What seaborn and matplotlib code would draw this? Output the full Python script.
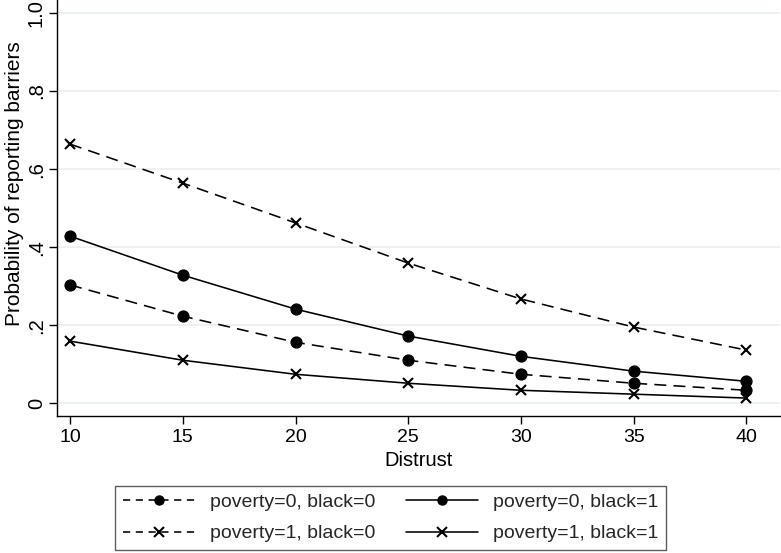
import numpy as np
import pandas as pd
import matplotlib.pyplot as plt
import seaborn as sns

# distrust levels on the x axis
DISTRUST = [10, 15, 20, 25, 30, 35, 40]

# predicted probabilities
P0_B0 = [0.303, 0.223, 0.156, 0.110, 0.074, 0.051, 0.033]
P0_B1 = [0.428, 0.328, 0.241, 0.172, 0.120, 0.082, 0.056]
P1_B0 = [0.664, 0.564, 0.462, 0.359, 0.267, 0.195, 0.136]
P1_B1 = [0.159, 0.110, 0.074, 0.051, 0.033, 0.023, 0.013]

LABELS = [
    "poverty=0, black=0",
    "poverty=0, black=1",
    "poverty=1, black=0",
    "poverty=1, black=1",
]
Y_TICKS = [0, 0.2, 0.4, 0.6, 0.8, 1.0]
Y_TICK_LABELS = ["0", ".2", ".4", ".6", ".8", "1.0"]


def main():
    sns.set_theme(style="white")
    plt.rcParams["font.family"] = ["Liberation Sans", "DejaVu Sans"]

    fig = plt.figure(figsize=(7.81, 5.53), dpi=100)
    ax = fig.add_axes([0.073, 0.2477, 0.926, 0.752])

    dash = (7.5, 4.5)
    styles = {
        LABELS[0]: ("o", dash),
        LABELS[1]: ("o", None),
        LABELS[2]: ("x", dash),
        LABELS[3]: ("x", None),
    }
    series = dict(zip(LABELS, [P0_B0, P0_B1, P1_B0, P1_B1]))

    handles = {}
    for label in LABELS:
        marker, dashes = styles[label]
        df = pd.DataFrame({"Distrust": DISTRUST, "prob": series[label]})
        sns.lineplot(
            data=df,
            x="Distrust",
            y="prob",
            color="black",
            marker=marker,
            markersize=7.8 if marker == "o" else 7,
            markeredgewidth=1.0 if marker == "o" else 1.5,
            markeredgecolor="black",
            linewidth=1.15,
            ax=ax,
            label=label,
        )
        line = ax.get_lines()[-1]
        if dashes is not None:
            line.set_dashes(dashes)
        handles[label] = line

    ax.set_xlim(9.42, 41.5)
    ax.set_ylim(-0.033, 1.033)
    ax.set_xticks(DISTRUST)
    ax.set_yticks(Y_TICKS)
    ax.set_yticklabels(Y_TICK_LABELS, rotation=90, va="center")
    ax.grid(axis="y", color="#e6f0f2", linewidth=1.2)
    ax.set_axisbelow(True)
    ax.tick_params(axis="both", direction="out", length=6, width=1, color="black",
                   labelsize=14, labelcolor="black", bottom=True, left=True, pad=3)
    ax.tick_params(axis="y", labelsize=14.5, pad=2)

    for side in ["top", "right"]:
        ax.spines[side].set_visible(False)
    for side in ["left", "bottom"]:
        ax.spines[side].set_color("black")
        ax.spines[side].set_linewidth(1.0)

    ax.set_xlabel("Distrust", fontsize=14.5, color="black", labelpad=4)
    ax.set_ylabel("Probability of reporting barriers", fontsize=15, color="black")
    ax.yaxis.set_label_coords(-0.045, 0.56)

    ax.get_legend().remove()
    # Stata fills the legend row by row, matplotlib column by column
    order = [LABELS[0], LABELS[2], LABELS[1], LABELS[3]]
    leg = fig.legend(
        [handles[k] for k in order],
        order,
        loc="lower center",
        bbox_to_anchor=(0.5, 0.0),
        borderaxespad=0.15,
        ncol=2,
        fontsize=14,
        handlelength=3.7,
        columnspacing=1.6,
        handletextpad=0.75,
        labelspacing=0.7,
        borderpad=0.4,
        frameon=True,
        fancybox=False,
    )
    leg.get_frame().set_edgecolor("#333333")
    leg.get_frame().set_linewidth(1.0)
    for h in leg.legend_handles:
        h.set_markersize(6.5)
        if h.get_linestyle() != "-":
            h.set_dashes((4.5, 3.5))

    fig.savefig("out.png", dpi=100)
    plt.close(fig)


if __name__ == "__main__":
    main()
